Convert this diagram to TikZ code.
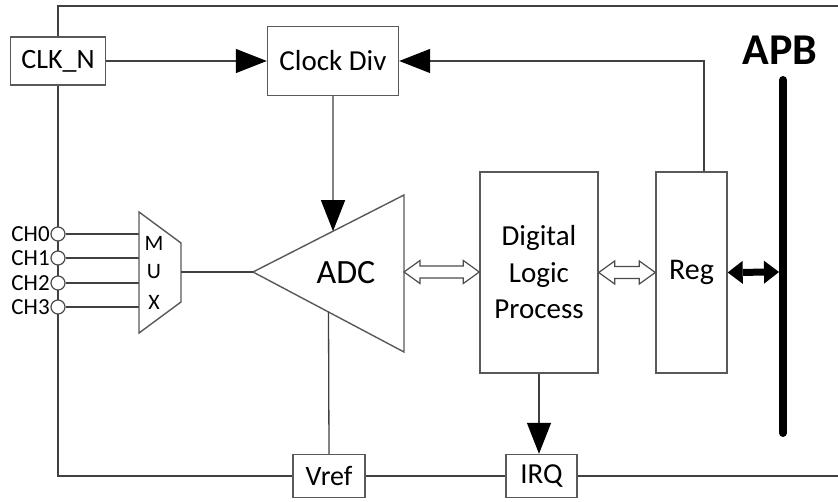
\documentclass[tikz,border=0pt]{standalone}
\usepackage{fontspec}
\setmainfont{Carlito}
\usetikzlibrary{arrows.meta,calc}

\newcommand{\fs}[2]{\fontsize{#1}{#2}\selectfont}

\tikzset{
  caja/.style={draw=black!65, line width=1.4pt, fill=white, inner sep=0pt},
  linea/.style={draw=black!75, line width=1.3pt},
  flecha/.style={linea, -{Triangle[length=31pt,width=24pt,black]}},
  hueca/.style={draw=black!70, line width=1.2pt, fill=white},
}

% flecha doble hueca entre dos puntos (horizontal)
\newcommand{\dobleflecha}[2]{%
  \draw[hueca] let \p1=(#1), \p2=(#2) in
    (\x1,\y1) -- (\x1+16pt,\y1+11.5pt) -- (\x1+16pt,\y1+6pt) -- (\x2-16pt,\y1+6pt)
    -- (\x2-16pt,\y1+11.5pt) -- (\x2,\y1) -- (\x2-16pt,\y1-11.5pt) -- (\x2-16pt,\y1-6pt)
    -- (\x1+16pt,\y1-6pt) -- (\x1+16pt,\y1-11.5pt) -- cycle;}

\begin{document}
\begin{tikzpicture}[x=1pt,y=-1pt]
    \useasboundingbox (0,0) rectangle (838,502);

    % Bloques
    \node[caja, minimum width=95pt, minimum height=48pt, font=\fs{28}{32}] (clkn) at (58,61) {CLK\_N};
    \node[caja, minimum width=131pt, minimum height=69pt, font=\fs{29}{33}] (clkdiv) at (333,61) {Clock Div};
    \node[caja, minimum width=118pt, minimum height=201pt, align=center, font=\fs{29}{36.5}] (dlp) at (539,272.5) {Digital\\Logic\\Process};
    \node[caja, minimum width=71pt, minimum height=201pt, font=\fs{30}{34}] (reg) at (691.5,272.5) {Reg};
    \node[caja, minimum width=72pt, minimum height=43pt, font=\fs{28}{32}] (vref) at (329,476) {Vref};
    \node[caja, minimum width=71pt, minimum height=43pt, font=\fs{29}{33}] (irq) at (541.5,476) {IRQ};

    % Marco
    \coordinate (marcoNE) at (838,6);
    \coordinate (marcoNO) at (58,6);
    \coordinate (marcoSO) at (58,476);
    \coordinate (marcoSE) at (838,476);
    \draw[linea] (marcoNE) -- (marcoNO) -- (clkn.north);
    \draw[linea] (clkn.south) -- (marcoSO) -- (vref.west);
    \draw[linea] (vref.east) -- (irq.west);
    \draw[linea] (irq.east) -- (marcoSE);

    % Canales de entrada
    \foreach \i/\y in {0/234,1/258,2/283,3/307} {
        \coordinate (muxin\i) at (139,\y);
        \node[circle, draw=black!70, line width=1.2pt, fill=white, minimum size=14pt, inner sep=0pt] (ch\i) at (58,\y) {};
        \node[anchor=east, inner sep=0.5pt, font=\fs{23}{26}] (lch\i) at (ch\i.west) {CH\i};
        \draw[linea] (ch\i.east) -- (muxin\i);
    }

    % MUX
    \coordinate (mux1) at (139,212);
    \coordinate (mux2) at (181,243);
    \coordinate (mux3) at (181,302);
    \coordinate (mux4) at (139,333);
    \coordinate (muxsal) at (181,272);
    \draw[caja] (mux1) -- (mux2) -- (mux3) -- (mux4) -- cycle;
    \foreach \l/\y in {M/243,U/272,X/302}
        \node[font=\fs{22}{25}] (mux\l) at (154,\y) {\l};

    % ADC
    \coordinate (adcpunta) at (253,272);
    \coordinate (adcsup) at (404,195);
    \coordinate (adcinf) at (404,352);
    \coordinate (adcder) at (404,272);
    \draw[caja] (adcpunta) -- (adcsup) -- (adcinf) -- cycle;
    \node[font=\fs{34}{38}] (adc) at (346,273) {ADC};
    \coordinate (adcentra) at ($(adcpunta)!0.53!(adcsup)$);
    \coordinate (adcref) at ($(adcpunta)!0.5!(adcinf)$);
    \draw[linea] (muxsal) -- (adcpunta);

    % Conexiones
    \draw[flecha] (clkn.east) -- (clkdiv.west);
    \draw[flecha] (clkdiv.south) -- (adcentra);
    \draw[flecha] ([xshift=12.5pt]reg.north) |- (clkdiv.east);
    \draw[linea] (adcref) -- (vref.north);
    \draw[flecha] (dlp.south) -- (dlp.south |- irq.north);

    % Flechas dobles
    \dobleflecha{adcder}{dlp.west}
    \dobleflecha{dlp.east}{reg.west}

    % Bus APB
    \coordinate (apbsup) at (783,80);
    \coordinate (apbinf) at (783,433);
    \coordinate (apbizq) at (779,272);
    \draw[line width=8pt, line cap=round] (apbsup) -- (apbinf);
    \node[anchor=base, font=\bfseries\fs{44}{48}] (apb) at (780,65) {APB};
    \draw[line width=7pt, {Triangle[length=15pt,width=23pt,line width=0pt]}-{Triangle[length=15pt,width=23pt,line width=0pt]}] (reg.east) -- (apbizq);
\end{tikzpicture}
\end{document}
